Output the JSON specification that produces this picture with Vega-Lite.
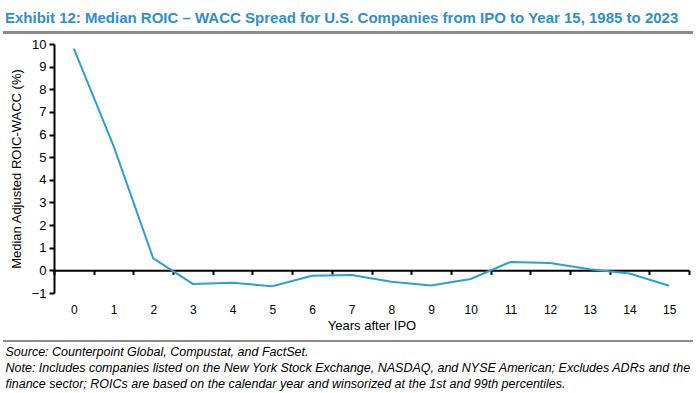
{
  "$schema": "https://vega.github.io/schema/vega-lite/v6.json",
  "autosize": "none",
  "width": 635,
  "height": 249,
  "padding": {"left": 54, "top": 44, "right": 7, "bottom": 100},
  "background": "white",
  "config": {
    "view": {"stroke": null},
    "font": "Liberation Sans"
  },
  "title": {
    "text": "Exhibit 12: Median ROIC – WACC Spread for U.S. Companies from IPO to Year 15, 1985 to 2023",
    "anchor": "start",
    "frame": "group",
    "dx": -49,
    "offset": 6,
    "fontSize": 15,
    "fontWeight": "bold",
    "color": "#2E8FCC",
    "font": "Liberation Sans"
  },
  "data": {
    "values": [
      {"year": 0, "spread": 9.8},
      {"year": 1, "spread": 5.5},
      {"year": 2, "spread": 0.53},
      {"year": 3, "spread": -0.6},
      {"year": 4, "spread": -0.55},
      {"year": 5, "spread": -0.7},
      {"year": 6, "spread": -0.24},
      {"year": 7, "spread": -0.2},
      {"year": 8, "spread": -0.5},
      {"year": 9, "spread": -0.67},
      {"year": 10, "spread": -0.38},
      {"year": 11, "spread": 0.37},
      {"year": 12, "spread": 0.32},
      {"year": 13, "spread": 0.05},
      {"year": 14, "spread": -0.14},
      {"year": 15, "spread": -0.68}
    ]
  },
  "resolve": {"axis": {"x": "independent", "y": "independent"}},
  "layer": [
    {
      "mark": {"type": "rule", "color": "#8C8C8C", "strokeWidth": 2, "clip": false},
      "encoding": {
        "x": {"datum": -1.785, "type": "quantitative", "axis": null},
        "x2": {"datum": 15.6},
        "y": {"datum": 10.5, "type": "quantitative", "axis": null}
      }
    },
    {
      "mark": {"type": "rule", "color": "#8C8C8C", "strokeWidth": 2, "clip": false},
      "encoding": {
        "x": {"datum": -1.785, "type": "quantitative", "axis": null},
        "x2": {"datum": 15.6},
        "y": {"datum": -3.12, "type": "quantitative", "axis": null}
      }
    },
    {
      "mark": {"type": "line", "color": "#2BA0D3", "strokeWidth": 2},
      "encoding": {
        "x": {
          "field": "year",
          "type": "quantitative",
          "scale": {"domain": [-0.5, 15.5], "nice": false, "zero": false},
          "axis": {
            "orient": "bottom",
            "values": [-0.5, 0.5, 1.5, 2.5, 3.5, 4.5, 5.5, 6.5, 7.5, 8.5, 9.5, 10.5, 11.5, 12.5, 13.5, 14.5, 15.5],
            "labels": false,
            "grid": false,
            "offset": -22.64,
            "domain": true,
            "domainColor": "#000000",
            "domainWidth": 2,
            "ticks": true,
            "tickColor": "#000000",
            "tickWidth": 2,
            "tickSize": 4,
            "title": [
              "Source: Counterpoint Global, Compustat, and FactSet.",
              "Note: Includes companies listed on the New York Stock Exchange, NASDAQ, and NYSE American; Excludes ADRs and the",
              "finance sector; ROICs are based on the calendar year and winsorized at the 1st and 99th percentiles."
            ],
            "titleX": -49,
            "titleY": 75,
            "titleAlign": "left",
            "titleAnchor": "start",
            "titleBaseline": "top",
            "titleFontSize": 12.5,
            "titleFontStyle": "italic",
            "titleFontWeight": "normal",
            "titleColor": "#000000",
            "titleLineHeight": 16,
            "titleFont": "Liberation Sans"
          }
        },
        "y": {
          "field": "spread",
          "type": "quantitative",
          "scale": {"domain": [-1, 10], "nice": false, "zero": false},
          "axis": {
            "orient": "left",
            "values": [-1, 0, 1, 2, 3, 4, 5, 6, 7, 8, 9, 10],
            "labelOverlap": false,
            "grid": false,
            "domain": true,
            "domainColor": "#000000",
            "domainWidth": 2,
            "zindex": 1,
            "ticks": true,
            "tickColor": "#000000",
            "tickWidth": 2,
            "tickSize": 5,
            "labelFontSize": 13,
            "labelColor": "#000000",
            "labelPadding": 3,
            "labelFont": "Liberation Sans",
            "title": "Median Adjusted ROIC-WACC (%)",
            "titleFontSize": 13,
            "titleFontWeight": "normal",
            "titleColor": "#000000",
            "titleFont": "Liberation Sans",
            "titlePadding": 8
          }
        }
      }
    },
    {
      "mark": {"type": "point", "opacity": 0},
      "encoding": {
        "x": {
          "field": "year",
          "type": "quantitative",
          "scale": {"domain": [-0.5, 15.5], "nice": false, "zero": false},
          "axis": {
            "orient": "bottom",
            "values": [0, 1, 2, 3, 4, 5, 6, 7, 8, 9, 10, 11, 12, 13, 14, 15],
            "grid": false,
            "domain": false,
            "ticks": false,
            "tickSize": 0,
            "labelPadding": 11,
            "labelFontSize": 12,
            "labelColor": "#000000",
            "labelFont": "Liberation Sans",
            "title": "Years after IPO",
            "titleFontSize": 13,
            "titleFontWeight": "normal",
            "titleColor": "#000000",
            "titleFont": "Liberation Sans",
            "titlePadding": 4
          }
        },
        "y": {
          "field": "spread",
          "type": "quantitative",
          "scale": {"domain": [-1, 10], "nice": false, "zero": false},
          "axis": null
        }
      }
    }
  ]
}
